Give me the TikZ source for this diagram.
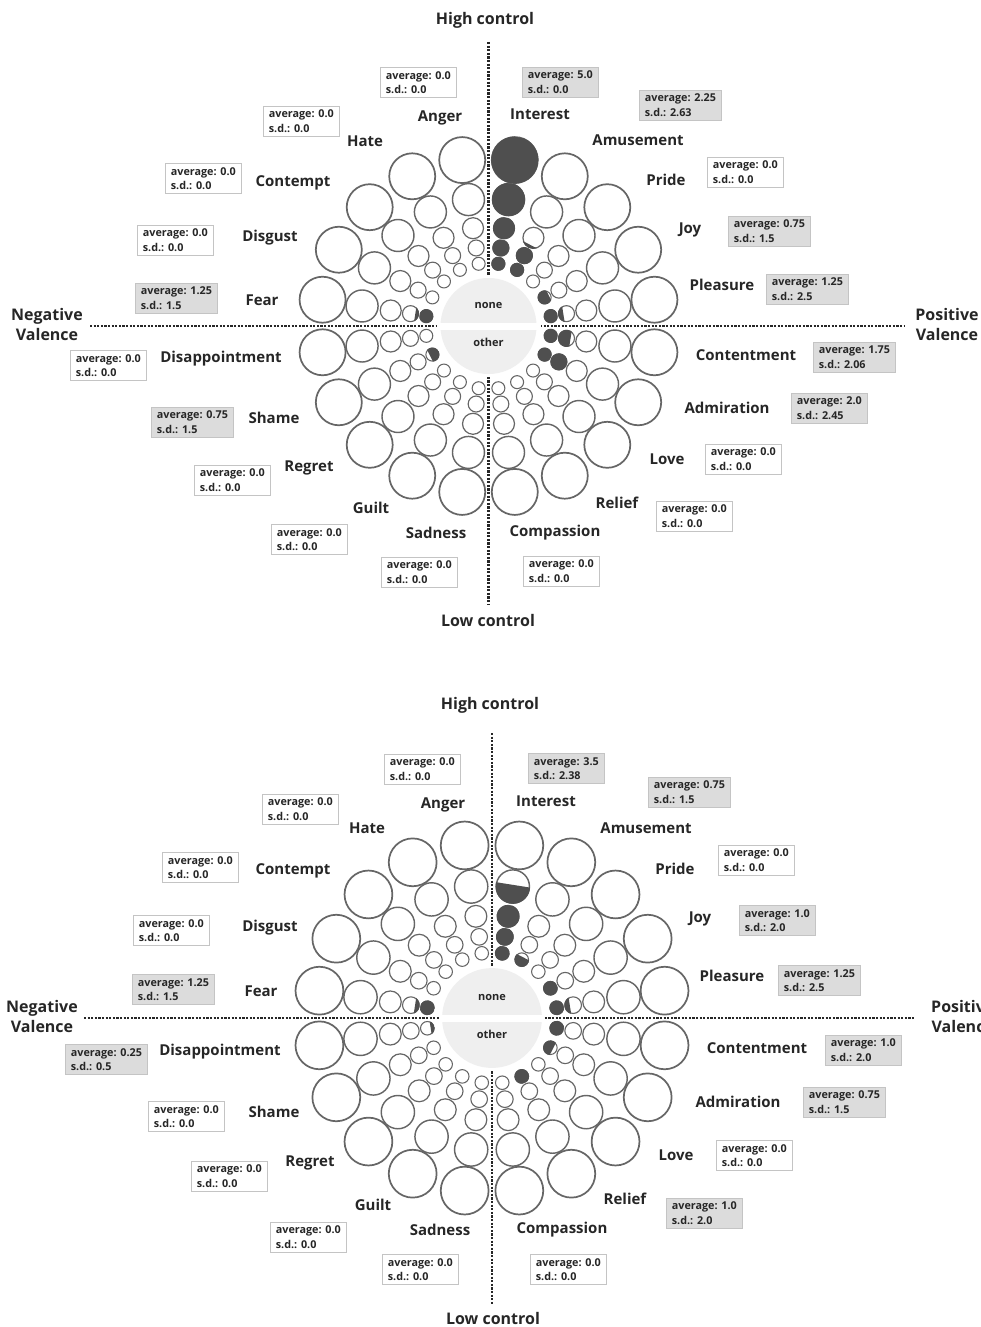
\documentclass[tikz,border=0pt]{standalone}
\usepackage{fontspec}
\setmainfont{Open Sans}
\usetikzlibrary{calc}

\definecolor{ringgray}{HTML}{666666}
\definecolor{markgray}{HTML}{4F4F4F}
\definecolor{hubgray}{HTML}{EFEFEF}
\definecolor{boxgray}{HTML}{DCDCDC}
\definecolor{boxedge}{HTML}{C4C4C4}

\tikzset{
    axisline/.style={line width=2.4pt, dash pattern=on 2.2pt off 1.4pt, black!85},
    ring/.style={circle, draw=ringgray, fill=white, inner sep=0pt, outer sep=0pt},
    emotion/.style={font=\fontsize{15}{18}\selectfont\bfseries, text=black!85, inner sep=0pt},
    axislabel/.style={font=\fontsize{16}{20}\selectfont\bfseries, text=black!85, align=center, inner sep=0pt},
    hubtext/.style={font=\fontsize{11}{13}\selectfont\bfseries, text=black!85, inner sep=0pt},
    statbox/.style={draw=boxedge, line width=0.7pt, fill=white, anchor=west, align=left,
        inner xsep=5.5pt, inner ysep=3.8pt, text=black!85, font=\fontsize{10.8}{14.5}\selectfont\bfseries},
    statboxon/.style={statbox, fill=boxgray},
}

\begin{document}
\begin{tikzpicture}[x=1pt,y=1pt]
        \useasboundingbox (0,0) rectangle (981,-1327);
        %% Axes
        \coordinate (t-top)    at (488.5,-42);
        \coordinate (t-bottom) at (488.5,-605);
        \coordinate (t-left)   at (90,-326);
        \coordinate (t-right)  at (905,-326);
        \coordinate (b-top)    at (492,-733);
        \coordinate (b-bottom) at (492,-1305);
        \coordinate (b-left)   at (84,-1018);
        \coordinate (b-right)  at (915,-1018);
        \foreach \wn in {t,b} {
            \draw[axisline] (\wn-top) -- (\wn-bottom);
            \draw[axisline] (\wn-left) -- (\wn-right);
        }
        %% Rings
        \foreach \wn/\cx/\cy/\s in {t/488.5/-326/1, b/492/-1018/1.04}
        \foreach \ang/\nm in {81/Interest, 63/Amusement, 45/Pride, 27/Joy, 9/Pleasure,
                -9/Contentment, -27/Admiration, -45/Love, -63/Relief, -81/Compassion,
                -99/Sadness, -117/Guilt, -135/Regret, -153/Shame, -171/Disappointment,
                171/Fear, 153/Disgust, 135/Contempt, 117/Hate, 99/Anger}
        \foreach \k/\d/\r in {1/63/6.5, 2/79/8, 3/99/10.5, 4/128/16, 5/168/23} {
            \node[ring, minimum size={2*\r*\s}, line width={0.8+0.04*\r}]
                (\wn-\nm-\k) at ($(\cx,\cy)+(\ang:\d*\s)$) {};
        }
        %% Hubs
        \foreach \wn/\cx/\cy/\s in {t/488.5/-326/1, b/492/-1018/1.04} {
            \fill[white] (\cx,\cy) circle [radius=50*\s];
            \fill[hubgray] (\cx,\cy) circle [radius=48*\s];
            \fill[white] (\cx-52,\cy-3.5) rectangle (\cx+52,\cy+3.5);
            \node[hubtext] (\wn-none)  at (\cx,\cy+21) {none};
            \node[hubtext] (\wn-other) at (\cx,\cy-16) {other};
        }
        %% Marks (angle / ring / filled part)
        \foreach \cx/\cy/\s/\ang/\k/\h in {
                488.5/-326/1/81/1/1, 488.5/-326/1/81/2/1, 488.5/-326/1/81/3/1,
                488.5/-326/1/81/4/1, 488.5/-326/1/81/5/1,
                488.5/-326/1/63/1/1, 488.5/-326/1/63/2/1, 488.5/-326/1/63/3/0.13,
                488.5/-326/1/27/1/0.85,
                488.5/-326/1/9/1/1, 488.5/-326/1/9/2/0.3,
                488.5/-326/1/-9/1/1, 488.5/-326/1/-9/2/0.75,
                488.5/-326/1/-27/1/1, 488.5/-326/1/-27/2/1,
                488.5/-326/1/171/1/1, 488.5/-326/1/171/2/0.2,
                488.5/-326/1/-153/1/0.7,
                492/-1018/1.04/81/1/1, 492/-1018/1.04/81/2/1, 492/-1018/1.04/81/3/1,
                492/-1018/1.04/81/4/0.55,
                492/-1018/1.04/63/1/0.7,
                492/-1018/1.04/27/1/1,
                492/-1018/1.04/9/1/1, 492/-1018/1.04/9/2/0.3,
                492/-1018/1.04/-9/1/1,
                492/-1018/1.04/-27/1/0.7,
                492/-1018/1.04/-63/1/1,
                492/-1018/1.04/171/1/1, 492/-1018/1.04/171/2/0.25,
                492/-1018/1.04/-171/1/0.25} {
            \pgfmathsetmacro{\dd}{{63,79,99,128,168}[\k-1]}
            \pgfmathsetmacro{\rr}{{6.5,8,10.5,16,23}[\k-1]}
            \begin{scope}[shift={(\cx,\cy)}, rotate=\ang, scale=\s]
                \clip (\dd,0) circle [radius=\rr+0.6];
                \fill[markgray] (\dd-\rr-1,-\rr-1) rectangle (\dd-\rr+2*\rr*\h,\rr+1);
            \end{scope}
        }
        %% Axis labels
        \node[axislabel] (t-high) at (485,-20)   {High control};
        \node[axislabel] (t-low)  at (488,-620)  {Low control};
        \node[axislabel] (t-neg)  at (47,-324)   {Negative\\Valence};
        \node[axislabel] (t-pos)  at (947,-324)  {Positive\\Valence};
        \node[axislabel] (b-high) at (490,-705)  {High control};
        \node[axislabel] (b-low)  at (493,-1318) {Low control};
        \node[axislabel] (b-neg)  at (42,-1016)  {Negative\\Valence};
        \node[axislabel, anchor=west] (b-pos) at (931,-1016) {Positive\\Valence};
        %% Emotion labels
        \foreach \nm/\x/\y in {Anger/440/118, Interest/540/114, Hate/365/141, Amusement/638/140,
                Contempt/293/183, Pride/666/180, Disgust/270/238, Joy/690/230, Fear/262/300,
                Pleasure/722/285, Disappointment/221/359, Contentment/746/355, Shame/274/418,
                Admiration/727/408, Regret/309/468, Love/667/459, Guilt/371/508, Relief/617/503,
                Sadness/436/533, Compassion/555/533}
            \node[emotion] (t-lab-\nm) at (\x,-\y) {\nm};
        \foreach \nm/\x/\y in {Anger/443/805, Interest/546/801, Hate/367/828, Amusement/646/828,
                Contempt/293/871, Pride/675/869, Disgust/270/928, Joy/700/919, Fear/261/991,
                Pleasure/732/976, Disappointment/220/1052, Contentment/757/1048, Shame/274/1112,
                Admiration/738/1102, Regret/310/1163, Love/676/1155, Guilt/373/1205, Relief/625/1199,
                Sadness/440/1230, Compassion/562/1230}
            \node[emotion] (b-lab-\nm) at (\x,-\y) {\nm};
        %% Statistics
        \foreach \nm/\x/\y/\av/\sd/\st in {Anger/380/82.5/0.0/0.0/statbox,
                Interest/522/82/5.0/0.0/statboxon, Hate/263/121/0.0/0.0/statbox,
                Amusement/639/105/2.25/2.63/statboxon, Contempt/165/178.5/0.0/0.0/statbox,
                Pride/707/172/0.0/0.0/statbox, Disgust/137/240/0.0/0.0/statbox,
                Joy/728/231/0.75/1.5/statboxon, Fear/135/298/1.25/1.5/statboxon,
                Pleasure/766/289/1.25/2.5/statboxon, Disappointment/70/365.5/0.0/0.0/statbox,
                Contentment/813/357/1.75/2.06/statboxon, Shame/151/422/0.75/1.5/statboxon,
                Admiration/791/408/2.0/2.45/statboxon, Regret/194/480/0.0/0.0/statbox,
                Love/705/459/0.0/0.0/statbox, Guilt/271/539.5/0.0/0.0/statbox,
                Relief/656/516/0.0/0.0/statbox, Sadness/381/572/0.0/0.0/statbox,
                Compassion/523/571/0.0/0.0/statbox}
            \node[\st] (t-box-\nm) at (\x,-\y) {average: \av\\s.d.: \sd};
        \foreach \nm/\x/\y/\av/\sd/\st in {Anger/384/769/0.0/0.0/statbox,
                Interest/528/768.5/3.5/2.38/statboxon, Hate/262/809/0.0/0.0/statbox,
                Amusement/648/792/0.75/1.5/statboxon, Contempt/162/867.5/0.0/0.0/statbox,
                Pride/718/860/0.0/0.0/statbox, Disgust/133/930.5/0.0/0.0/statbox,
                Joy/739/920.5/1.0/2.0/statboxon, Fear/132/989.5/1.25/1.5/statboxon,
                Pleasure/778/980.5/1.25/2.5/statboxon, Disappointment/65/1059.5/0.25/0.5/statboxon,
                Contentment/825/1050/1.0/2.0/statboxon, Shame/148/1116.5/0.0/0.0/statbox,
                Admiration/803/1102/0.75/1.5/statboxon, Regret/191/1176/0.0/0.0/statbox,
                Love/716/1155.5/0.0/0.0/statbox, Guilt/270/1237/0.0/0.0/statbox,
                Relief/666/1213/1.0/2.0/statboxon, Sadness/382/1269.5/0.0/0.0/statbox,
                Compassion/530/1269.5/0.0/0.0/statbox}
            \node[\st] (b-box-\nm) at (\x,-\y) {average: \av\\s.d.: \sd};
\end{tikzpicture}
\end{document}
